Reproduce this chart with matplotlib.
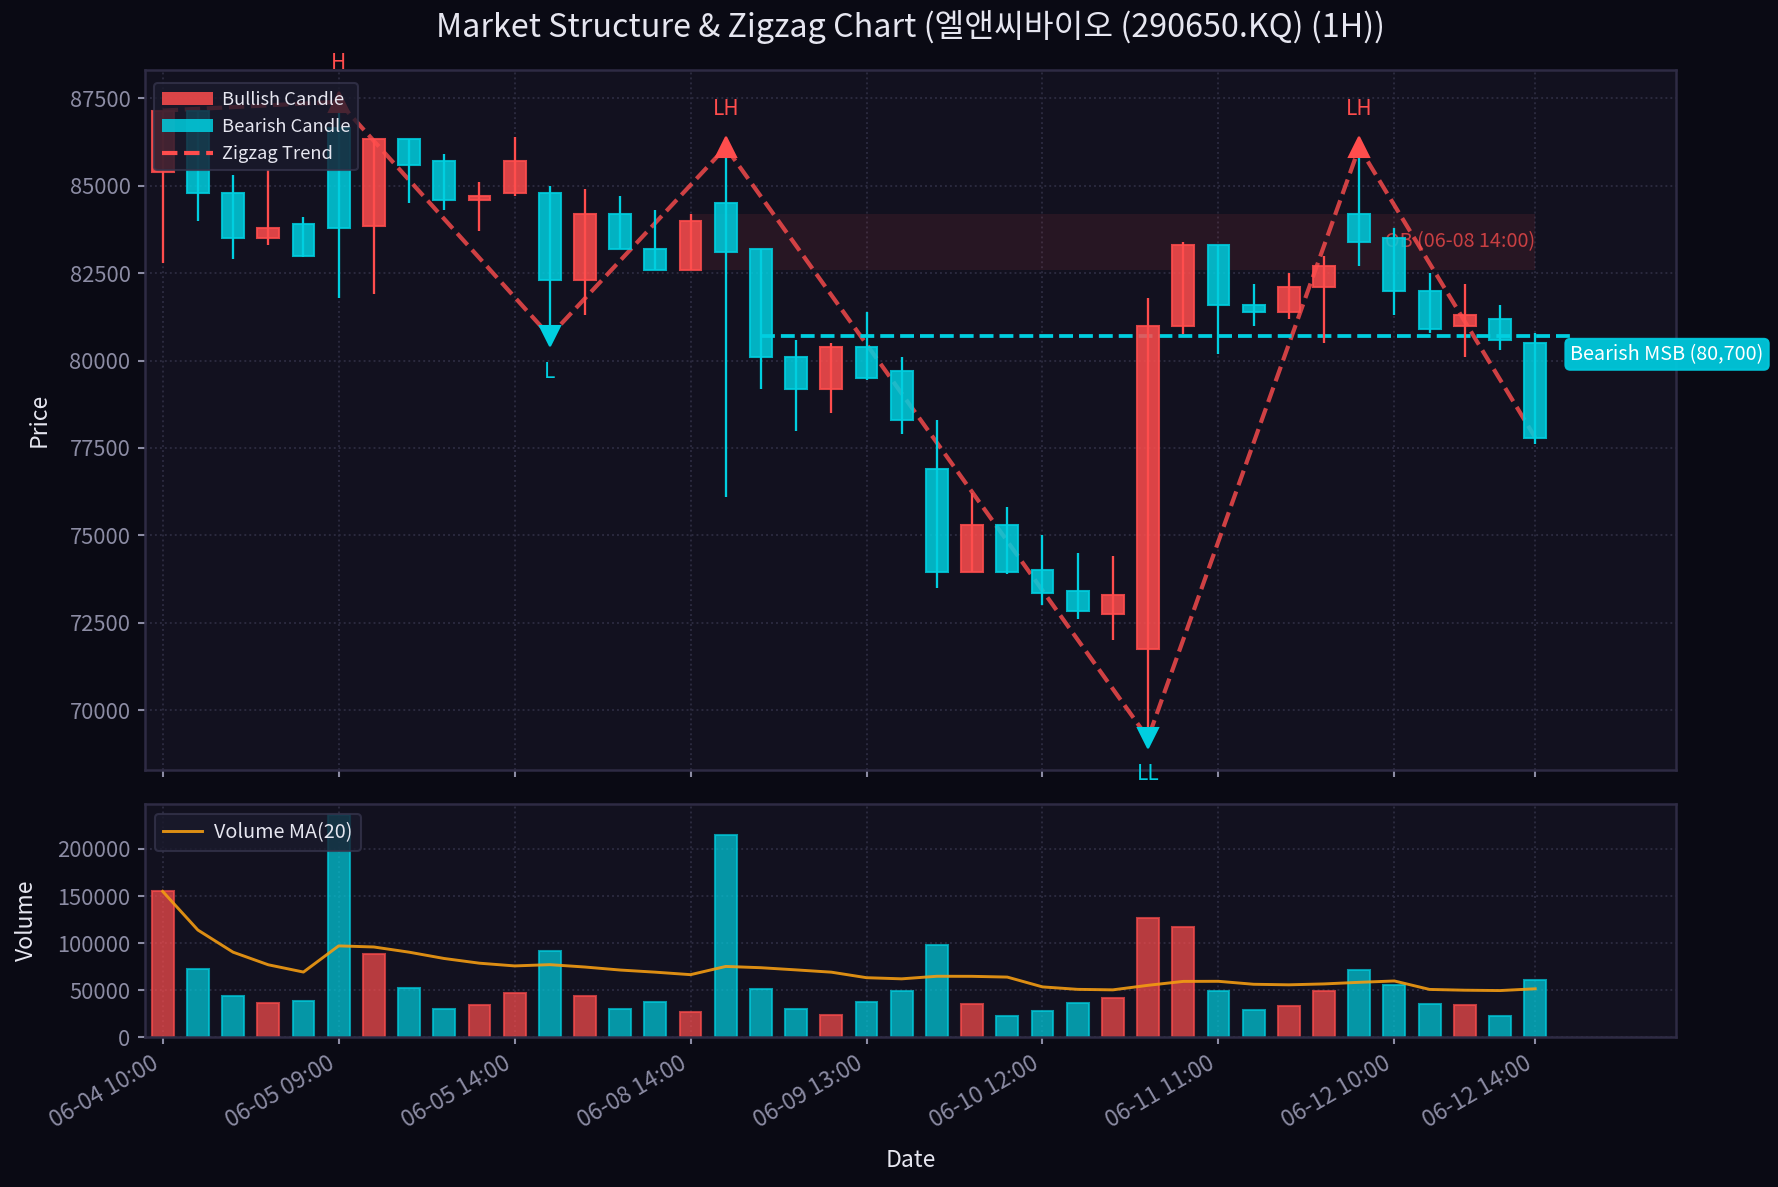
import numpy as np
import pandas as pd
import matplotlib
matplotlib.use("Agg")
import matplotlib.pyplot as plt
from matplotlib.patches import Patch, Rectangle
from matplotlib.lines import Line2D

plt.rcParams['font.family'] = ['Noto Sans CJK KR', 'DejaVu Sans']

# ---------------- data ----------------
opens = [85400, 87150, 84800, 83500, 83900, 86650, 83850, 86350, 85700, 84600,
         84800, 84800, 82300, 84200, 83200, 82600, 84500, 83200, 80100, 79200,
         80400, 79700, 76900, 73950, 75300, 74000, 73400, 72750, 71750, 81000,
         83300, 81600, 81400, 82100, 84200, 83500, 82000, 81000, 81200, 80500]
highs = [87150, 87150, 85300, 85450, 84100, 87400, 86350, 86350, 85900, 85100,
         86400, 85000, 84900, 84700, 84300, 84200, 86100, 83200, 80600, 80500,
         81400, 80100, 78300, 76200, 75800, 75000, 74500, 74400, 81800, 83400,
         83300, 82200, 82500, 83000, 86100, 83800, 82500, 82200, 81600, 80800]
lows = [82800, 84000, 82900, 83300, 82950, 81800, 81900, 84500, 84300, 83700,
        84700, 80700, 81300, 83200, 82600, 82600, 76100, 79200, 78000, 78500,
        79450, 77900, 73500, 73950, 73900, 73000, 72600, 72000, 69200, 80750,
        80200, 81000, 81200, 80500, 82700, 81300, 80800, 80100, 80300, 77600]
closes = [87150, 84800, 83500, 83800, 83000, 83800, 86350, 85600, 84600, 84700,
          85700, 82300, 84200, 83200, 82600, 84000, 83100, 80100, 79200, 80400,
          79500, 78300, 73950, 75300, 73950, 73350, 72850, 73300, 81000, 83300,
          81600, 81400, 82100, 82700, 83400, 82000, 80900, 81300, 80600, 77800]
volumes = [155000, 73000, 43500, 37000, 38500, 236000, 89000, 52000, 30000, 34000,
           47000, 92000, 44500, 30000, 37500, 27000, 215000, 51000, 30000, 23500,
           37500, 49000, 98000, 35500, 22500, 28000, 36500, 41500, 126500, 117000,
           49000, 29000, 33000, 49000, 71500, 55500, 35500, 34500, 22500, 61000]

tick_pos = [0, 5, 10, 15, 20, 25, 30, 35, 39]
tick_labels = ['06-04 10:00', '06-05 09:00', '06-05 14:00', '06-08 14:00', '06-09 13:00',
               '06-10 12:00', '06-11 11:00', '06-12 10:00', '06-12 14:00']

zz_idx = [0, 5, 11, 16, 28, 34, 39]
zz_price = [87150, 87400, 80700, 86100, 69200, 86100, 77800]
zz_label = ['', 'H', 'L', 'LH', 'LL', 'LH', '']
zz_kind = ['', 'high', 'low', 'high', 'low', 'high', '']

ob_idx = 15
ob_label = '06-08 14:00'
msb_level = 80700
msb_start = 17

title = 'Market Structure & Zigzag Chart (엘앤씨바이오 (290650.KQ) (1H))'

# ---------------- style ----------------
RED = '#ff4d4d'
CYAN = '#00cfe0'
FIG_BG = '#0a0a14'
AX_BG = '#12111f'
GRID = '#2c2b40'
SPINE = '#2e2b44'
TICK = '#8c8ca4'
TXT = '#e6e6f0'

n = len(opens)
x = np.arange(n)
o = np.array(opens); c = np.array(closes); h = np.array(highs); l = np.array(lows)
v = np.array(volumes)
bull = c >= o
cols = np.where(bull, RED, CYAN)

fig = plt.figure(figsize=(1778 / 150, 1187 / 150), dpi=150, facecolor=FIG_BG)
ax1 = fig.add_axes([0.0816, 0.3513, 0.861, 0.5897])
ax2 = fig.add_axes([0.0816, 0.126, 0.861, 0.1967], sharex=ax1)

for ax in (ax1, ax2):
    ax.set_facecolor(AX_BG)
    for s in ax.spines.values():
        s.set_color(SPINE)
        s.set_linewidth(1.2)
    ax.grid(True, linestyle=':', color=GRID, linewidth=0.9)
    ax.set_axisbelow(True)
    ax.tick_params(colors=TICK, length=3.5, width=1)
    ax.tick_params(axis='y', labelsize=10.5)
    ax.tick_params(axis='x', labelsize=11)

# Order block zone
ax1.add_patch(Rectangle((ob_idx, lows[ob_idx]), n - 1 - ob_idx, highs[ob_idx] - lows[ob_idx],
                        facecolor=RED, alpha=0.09, edgecolor='none', zorder=1))
ax1.text(n - 1, (lows[ob_idx] + highs[ob_idx]) / 2, f'OB ({ob_label})', color=RED, alpha=0.75,
         fontsize=9.5, ha='right', va='center', zorder=2)

# Zigzag
ax1.plot(zz_idx, zz_price, linestyle='--', color=RED, linewidth=2.0, alpha=0.8, zorder=2)

# MSB line
ax1.plot([msb_start, n], [msb_level, msb_level], linestyle='--', color=CYAN, linewidth=1.8, zorder=2)
ax1.text(n, msb_level - 220, f'Bearish MSB ({msb_level:,})', color='white', fontsize=9.5,
         ha='left', va='top', zorder=6,
         bbox=dict(boxstyle='round,pad=0.25', facecolor='#00c8dc', edgecolor='#00c8dc', alpha=0.95))

# Candles
ax1.vlines(x, l, h, colors=cols, linewidth=1.1, zorder=3)
ax1.bar(x, np.abs(c - o), bottom=np.minimum(o, c), width=0.62, color=cols, alpha=0.85,
        edgecolor=cols, linewidth=1.0, zorder=3)

# Pivot markers
for i, p, lab, kind in zip(zz_idx, zz_price, zz_label, zz_kind):
    if not lab:
        continue
    if kind == 'high':
        ax1.plot(i, p, marker='^', color=RED, markersize=10, linestyle='none', zorder=5)
        ax1.annotate(lab, (i, p), xytext=(0, 18.5), textcoords='offset points', color=RED,
                     fontsize=10, ha='center', va='center', zorder=5, annotation_clip=False)
    else:
        ax1.plot(i, p, marker='v', color=CYAN, markersize=10, linestyle='none', zorder=5)
        ax1.annotate(lab, (i, p), xytext=(0, -17), textcoords='offset points', color=CYAN,
                     fontsize=10, ha='center', va='center', zorder=5, annotation_clip=False)

ax1.set_xlim(-0.5, n + 3)
ax1.set_ylabel('Price', color=TXT, fontsize=11, labelpad=9)
ax1.tick_params(axis='x', labelbottom=False)

handles = [Patch(facecolor=RED, alpha=0.85, label='Bullish Candle'),
           Patch(facecolor=CYAN, alpha=0.85, label='Bearish Candle'),
           Line2D([0], [0], color=RED, linestyle='--', linewidth=2, label='Zigzag Trend')]
leg = ax1.legend(handles=handles, loc='upper left', bbox_to_anchor=(0.0, 0.994),
                 fontsize=8.8, facecolor='#1a1a2c',
                 edgecolor='#35344c', framealpha=0.8, labelcolor=TXT, handlelength=2.8,
                 handletextpad=0.5)
leg.set_zorder(7)

# Volume
ax2.bar(x, v, width=0.62, color=cols, alpha=0.7, edgecolor=cols, linewidth=1.0, zorder=2)
ma = pd.Series(v).rolling(20, min_periods=1).mean()
ax2.plot(x, ma, color='#f39c12', linewidth=1.4, alpha=0.9, label='Volume MA(20)', zorder=3)
ax2.set_ylabel('Volume', color=TXT, fontsize=11, labelpad=9)
ax2.set_xlabel('Date', color=TXT, fontsize=11, labelpad=8)
ax2.set_xticks(tick_pos)
ax2.set_xticklabels(tick_labels, rotation=30, ha='right')
ax2.legend(loc='upper left', fontsize=9.5, facecolor='#1a1a2c', edgecolor='#35344c',
           framealpha=0.8, labelcolor=TXT, handletextpad=0.6)

fig.text(0.512, 0.977, title, color=TXT, fontsize=15.5, ha='center', va='center')

fig.savefig('out.png', dpi=150, facecolor=FIG_BG)
